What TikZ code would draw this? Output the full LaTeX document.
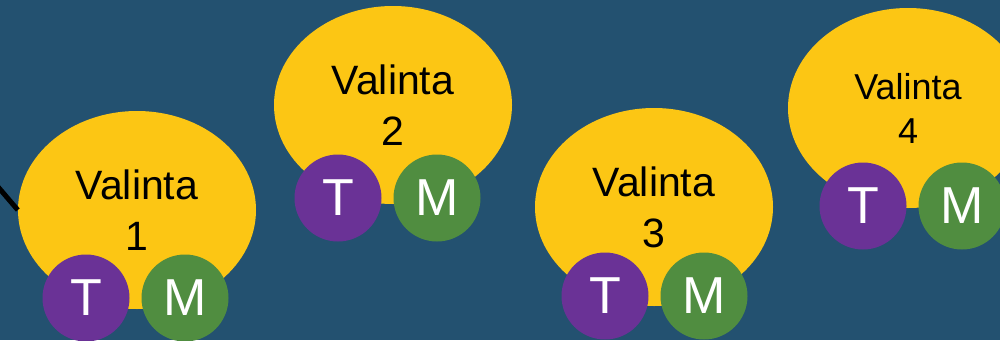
\documentclass[tikz,border=0pt]{standalone}
\usepackage{fontspec}
\setmainfont{Liberation Sans}
\usetikzlibrary{shapes.geometric}
\definecolor{bgblue}{RGB}{35,81,112}
\definecolor{choiceyellow}{RGB}{252,198,20}
\definecolor{tpurple}{RGB}{106,50,150}
\definecolor{mgreen}{RGB}{80,141,64}
\tikzset{
  choice/.style={ellipse, fill=choiceyellow, inner sep=0pt, minimum width=238pt, minimum height=198pt, align=center, text=black, font=\fontsize{41}{51}\selectfont},
  tcirc/.style={circle, fill=tpurple, inner sep=0pt, minimum size=87pt, text=white, font=\fontsize{52}{52}\selectfont},
  mcirc/.style={circle, fill=mgreen, inner sep=0pt, minimum size=87pt, text=white, font=\fontsize{52}{52}\selectfont},
  link/.style={draw=black, line width=5pt}
}
\begin{document}
\begin{tikzpicture}[x=1pt,y=-1pt]
\useasboundingbox (0,0) rectangle (1000,340);
\clip (0,0) rectangle (1000,340);
\fill[bgblue] (0,0) rectangle (1000,340);

\coordinate (lstart) at (-25,160);

\node[choice] (e1) at (137,210) {Valinta\\1};
\node[choice] (e2) at (393,105) {Valinta\\2};
\node[choice] (e3) at (654,207) {Valinta\\3};
\node[choice, minimum width=240pt, minimum height=200pt, font=\fontsize{36}{44}\selectfont] (e4) at (908,108) {Valinta\\4};

\draw[link] (lstart) -- (e1.west);

\node[tcirc] (t1) at (86,298) {T};
\node[mcirc] (m1) at (185,298) {M};
\node[tcirc] (t2) at (338,198) {T};
\node[mcirc] (m2) at (437,198) {M};
\node[tcirc] (t3) at (605,296) {T};
\node[mcirc] (m3) at (704,296) {M};
\node[tcirc] (t4) at (863,206) {T};
\node[mcirc] (m4) at (962,206) {M};
\end{tikzpicture}
\end{document}
